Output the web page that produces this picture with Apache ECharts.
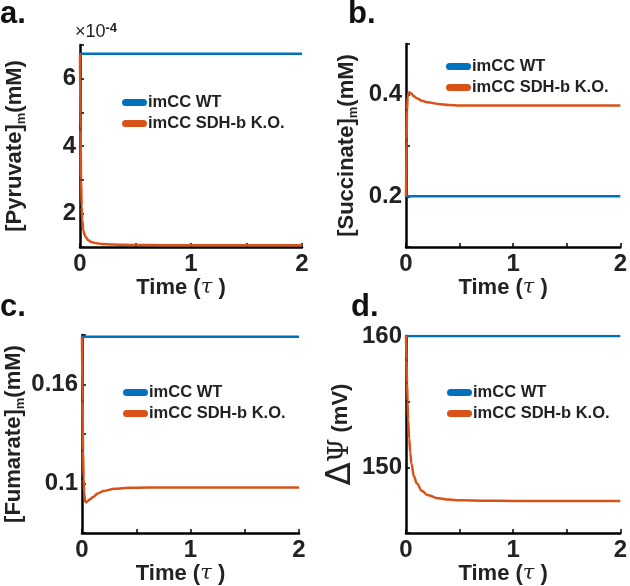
<!DOCTYPE html>
<html>
<head>
<meta charset="utf-8">
<script src="https://cdn.jsdelivr.net/npm/echarts@6/dist/echarts.min.js"></script>
<style>
  html, body { margin: 0; padding: 0; background: #fff; }
  #chart { width: 630px; height: 586px; }
</style>
</head>
<body>
<div id="chart"></div>
<script>
// time points (tau) shared by the K.O. curves
const time = [0, 0.005, 0.01, 0.015, 0.02, 0.03, 0.04, 0.05, 0.075, 0.1, 0.15, 0.2, 0.3, 0.4, 0.5, 0.75, 1, 1.5, 2];
const timeWT = [0, 2];

// a. pyruvate, in units of 1e-4 mM
const pyruvateWT = [6.74, 6.74];
const pyruvateKO = [6.74, 4.5, 3.0, 2.2, 1.8, 1.5, 1.38, 1.3, 1.2, 1.15, 1.11, 1.09, 1.075, 1.065, 1.06, 1.055, 1.05, 1.05, 1.05];
// b. succinate (mM)
const succinateWT = [0.2, 0.2];
const succinateKO = [0.2, 0.31, 0.37, 0.395, 0.402, 0.405, 0.404, 0.402, 0.397, 0.393, 0.388, 0.385, 0.382, 0.380, 0.379, 0.379, 0.379, 0.379, 0.379];
// c. fumarate (mM)
const fumarateWT = [0.189, 0.189];
const fumarateKO = [0.189, 0.15, 0.12, 0.103, 0.094, 0.0888, 0.0887, 0.0893, 0.0905, 0.0918, 0.0942, 0.0955, 0.0968, 0.0973, 0.0975, 0.0976, 0.0976, 0.0976, 0.0976];
// d. membrane potential (mV)
const psiWT = [160, 160];
const psiKO = [160, 158.2, 156.4, 155, 153.6, 152.2, 151.1, 150.3, 149.3, 148.8, 148.2, 147.9, 147.65, 147.55, 147.5, 147.46, 147.45, 147.45, 147.45];

const xTicks = [0, 1, 2];
const yTicks = [[2, 4, 6], [0.2, 0.4], [0.1, 0.16], [150, 160]];
const seriesNames = ['imCC WT', 'imCC SDH-b K.O.'];

const FONT = 'Liberation Sans, Arial, sans-serif';
const BLUE = '#0072BD';
const ORANGE = '#D95319';

var myChart = echarts.init(document.getElementById('chart'));

// grid boxes in px
var grids = [
    {left: 80, top: 45, width: 222, height: 202},
    {left: 406, top: 44, width: 221, height: 203},
    {left: 82, top: 335, width: 217, height: 205},
    {left: 406, top: 336, width: 217, height: 204}
];
var yRanges = [[1, 7, 1], [0.1, 0.5, 0.1], [0.07, 0.19, 0.03], [145, 160, 5]];
var yNames = [
    '{b|[Pyruvate]}{s|m}{b|(mM)}',
    '{b|[Succinate]}{s|m}{b|(mM)}',
    '{b|[Fumarate]}{s|m}{b|(mM)}',
    '{d|Δ}{p|Ψ}{b| (mV)}'
];
var yNameGaps = [52, 46, 50, 46];
var legendPos = [[122, 94], [446, 58], [123, 384], [447, 384]];

function hasTick(list, v) {
    return list.some(function (t) { return Math.abs(t - v) < 1e-9; });
}

var xAxis = [], yAxis = [], legend = [], series = [];
var wt = [pyruvateWT, succinateWT, fumarateWT, psiWT];
var ko = [pyruvateKO, succinateKO, fumarateKO, psiKO];

for (let i = 0; i < 4; i++) {
    xAxis.push({
        type: 'value', gridIndex: i, min: 0, max: 2, interval: 0.5,
        name: '{b|Time (}{t|τ}{b| )}',
        nameLocation: 'middle', nameGap: 24,
        nameTextStyle: {
            padding: [0, 20, 0, 0],
            rich: {
                b: {fontFamily: FONT, fontWeight: 'bold', fontSize: 22, color: '#222'},
                t: {fontFamily: 'DejaVu Serif', fontStyle: 'italic', fontSize: 21, color: '#222'}
            }
        },
        axisLine: {lineStyle: {color: '#000', width: 2.5}},
        axisTick: {inside: true, length: 4, lineStyle: {color: '#000', width: 1.5}},
        splitLine: {show: false},
        axisLabel: {
            margin: 5, fontFamily: FONT, fontWeight: 'bold', fontSize: 24, color: '#222',
            formatter: function (v) { return hasTick(xTicks, v) ? String(v) : ''; }
        }
    });
    yAxis.push({
        type: 'value', gridIndex: i,
        min: yRanges[i][0], max: yRanges[i][1], interval: yRanges[i][2],
        name: yNames[i], nameLocation: 'middle', nameRotate: 90, nameGap: yNameGaps[i],
        nameTextStyle: {
            rich: {
                b: {fontFamily: FONT, fontWeight: 'bold', fontSize: 22, lineHeight: 26, color: '#222'},
                s: {fontFamily: FONT, fontWeight: 'bold', fontSize: 13, lineHeight: 13, verticalAlign: 'bottom', color: '#222'},
                d: {fontFamily: 'DejaVu Sans', fontWeight: 'normal', fontSize: 34, lineHeight: 32, color: '#222'},
                p: {fontFamily: 'DejaVu Serif', fontWeight: 'normal', fontSize: 27, lineHeight: 32, color: '#222'}
            }
        },
        axisLine: {show: true, lineStyle: {color: '#000', width: 2.5}},
        axisTick: {show: true, inside: true, length: 4, lineStyle: {color: '#000', width: 1.5}},
        splitLine: {show: false},
        axisLabel: {
            margin: 4, fontFamily: FONT, fontWeight: 'bold', fontSize: 24, color: '#222',
            formatter: function (v) { return hasTick(yTicks[i], v) ? String(+v.toFixed(4)) : ''; }
        }
    });
    legend.push({
        data: seriesNames, orient: 'vertical', left: legendPos[i][0], top: legendPos[i][1],
        padding: 0, itemGap: 4, itemWidth: 25, itemHeight: 7,
        icon: 'path://M3.5,0 L21.5,0 A3.5,3.5 0 0 1 21.5,7 L3.5,7 A3.5,3.5 0 0 1 3.5,0 Z',
        textStyle: {fontFamily: FONT, fontWeight: 'bold', fontSize: 16.5, lineHeight: 16, color: '#222', padding: [0, 0, 0, -4]},
        selectedMode: false
    });
    series.push({
        name: seriesNames[0], type: 'line', xAxisIndex: i, yAxisIndex: i,
        data: timeWT.map(function (t, k) { return [t, wt[i][k]]; }),
        showSymbol: false, lineStyle: {color: BLUE, width: 2.5}, itemStyle: {color: BLUE}
    });
    series.push({
        name: seriesNames[1], type: 'line', xAxisIndex: i, yAxisIndex: i,
        data: time.map(function (t, k) { return [t, ko[i][k]]; }),
        smooth: 0.4, smoothMonotone: 'x',
        showSymbol: false, lineStyle: {color: ORANGE, width: 2.5}, itemStyle: {color: ORANGE}
    });
}

function panelLabel(text, x, y) {
    return {
        type: 'text', x: x, y: y,
        style: {text: text, fontFamily: FONT, fontWeight: 'bold', fontSize: 31, fill: '#111', verticalAlign: 'middle'}
    };
}

var option = {
    animation: false,
    grid: grids,
    xAxis: xAxis,
    yAxis: yAxis,
    legend: legend,
    series: series,
    graphic: [
        panelLabel('a.', 0, 14),
        panelLabel('b.', 348, 14),
        panelLabel('c.', 0, 307),
        panelLabel('d.', 351, 307),
        {
            type: 'text', x: 75, y: 22,
            style: {
                text: '{a|×10}{e|-4}',
                rich: {
                    a: {fontFamily: FONT, fontSize: 18, fill: '#222', verticalAlign: 'bottom', lineHeight: 19},
                    e: {fontFamily: FONT, fontWeight: 'bold', fontSize: 13, fill: '#222', verticalAlign: 'top', lineHeight: 19}
                }
            }
        }
    ]
};
myChart.setOption(option);
</script>
</body>
</html>
